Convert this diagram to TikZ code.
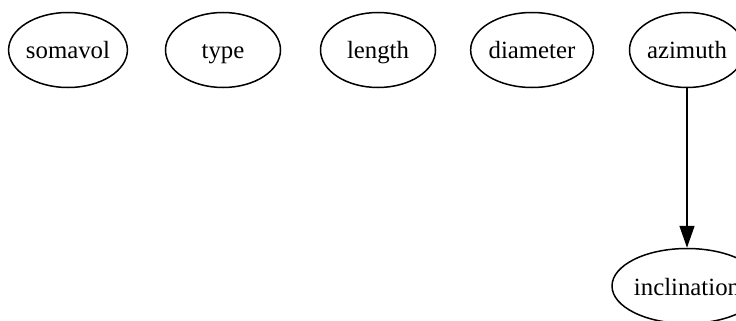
\documentclass[tikz,border=0pt]{standalone}
\usepackage{fontspec}
\setmainfont{Liberation Serif}
\usetikzlibrary{shapes.geometric,arrows.meta}
\begin{document}
\begin{tikzpicture}[x=1pt,y=-1pt,
  var/.style={draw,ellipse,line width=1.5pt,minimum width=115pt,minimum height=75pt,
    inner sep=0pt,text height=18pt,text depth=0pt,font=\fontsize{24.8}{30}\selectfont},
  dep/.style={line width=1.5pt,-{Triangle[length=22pt,width=15pt]}}]
\useasboundingbox (0,0) rectangle (736,321);
\clip (0,0) rectangle (736,321);
\node[var] (somavol) at (68,50) {somavol};
\node[var] (type) at (223,50) {type};
\node[var] (length) at (378,50) {length};
\node[var] (diameter) at (532,50) {diameter};
\node[var] (azimuth) at (687,50) {azimuth};
\node[var] (inclination) at (687,286) {inclination};
\draw[dep] (azimuth) -- (inclination);
\end{tikzpicture}
\end{document}
